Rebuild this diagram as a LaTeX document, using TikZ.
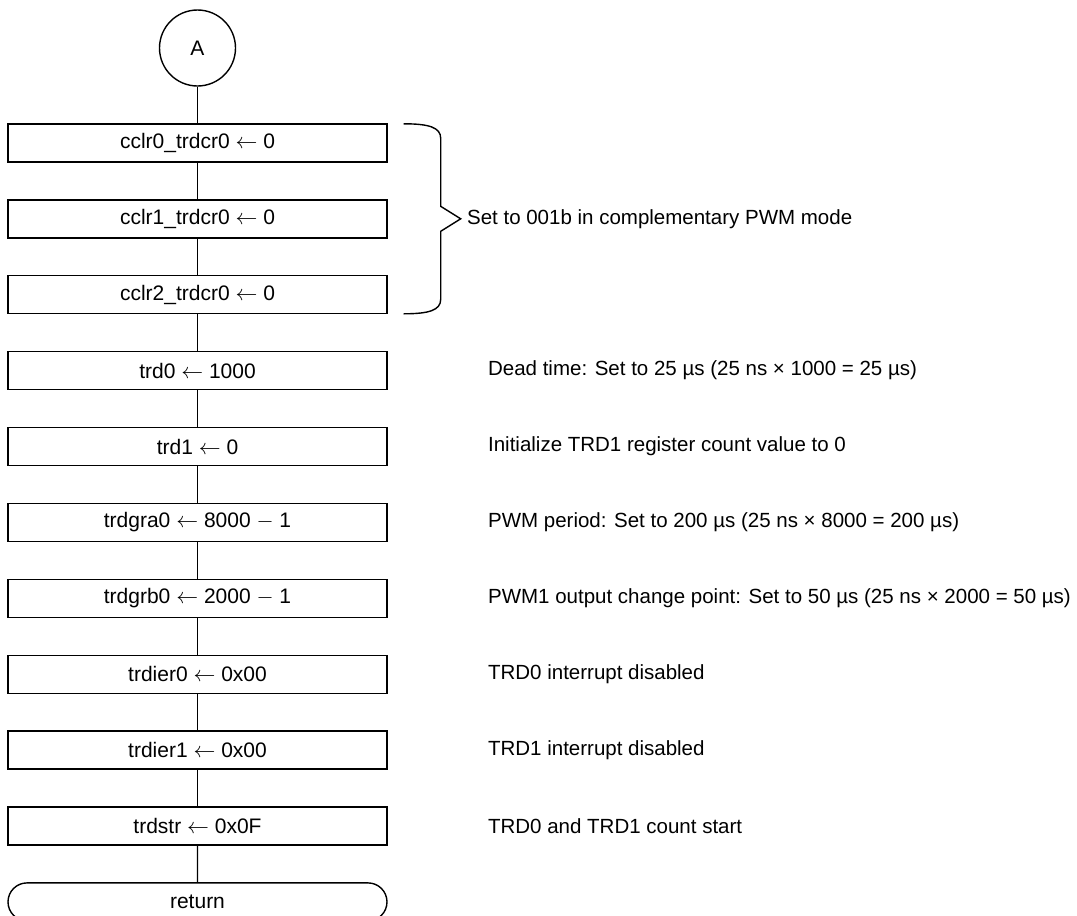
\documentclass[tikz,border=0pt]{standalone}
\usepackage{fontspec}
\setmainfont{Liberation Sans}
\usetikzlibrary{positioning,shapes.misc}

\tikzset{
  proc/.style={draw,black,line width=0.7pt,minimum width=189.5pt,minimum height=19pt,inner sep=0pt},
  conn/.style={draw,black,line width=0.7pt,circle,minimum size=38pt,inner sep=0pt},
  term/.style={draw,black,line width=0.7pt,rounded rectangle,minimum width=189.5pt,minimum height=19pt,inner sep=0pt},
  note/.style={anchor=west,inner sep=0pt,font=\fontsize{10.25}{12.3}\selectfont},
}

\begin{document}
\begin{tikzpicture}[x=0.5pt,y=-0.5pt,font=\fontsize{10.5}{12.6}\selectfont,node distance=18.25pt]
        \useasboundingbox (0,0) rectangle (1077,916);
        % Flow
        \node[conn] (a) at (197.5,48) {A};
        \node[proc,below=of a] (b1) {cclr0\_trdcr0 $\leftarrow$ 0};
        \node[proc,below=of b1] (b2) {cclr1\_trdcr0 $\leftarrow$ 0};
        \node[proc,below=of b2] (b3) {cclr2\_trdcr0 $\leftarrow$ 0};
        \node[proc,below=of b3] (b4) {trd0 $\leftarrow$ 1000};
        \node[proc,below=of b4] (b5) {trd1 $\leftarrow$ 0};
        \node[proc,below=of b5] (b6) {trdgra0 $\leftarrow$ 8000 $-$ 1};
        \node[proc,below=of b6] (b7) {trdgrb0 $\leftarrow$ 2000 $-$ 1};
        \node[proc,below=of b7] (b8) {trdier0 $\leftarrow$ 0x00};
        \node[proc,below=of b8] (b9) {trdier1 $\leftarrow$ 0x00};
        \node[proc,below=of b9] (b10) {trdstr $\leftarrow$ 0x0F};
        \node[term,below=of b10] (ret) {return};
        \draw[line width=0.7pt] (a) -- (b1);
        \foreach \i [evaluate=\i as \j using int(\i+1)] in {1,...,9}
            \draw[line width=0.7pt] (b\i) -- (b\j);
        \draw[line width=0.7pt] (b10) -- (ret);
        % Brace over the three cclr boxes
        \draw[line width=0.7pt,shift={(b2.east)}] (16,-95) .. controls (41,-95) and (53,-91.5) .. (53,-80.5)
            -- (53,-12.5) -- (73,0) -- (53,12.5) -- (53,80.5)
            .. controls (53,91.5) and (41,95) .. (16,95);
        \node[note,right=39.5pt of b2] (n2) {Set to 001b in complementary PWM mode};
        % Comments
        \node[note,right=50pt of b4] (n4) {Dead time: Set to 25 µs (25 ns × 1000 = 25 µs)};
        \node[note,right=50pt of b5] (n5) {Initialize TRD1 register count value to 0};
        \node[note,right=50pt of b6] (n6) {PWM period: Set to 200 µs (25 ns × 8000 = 200 µs)};
        \node[note,right=50pt of b7] (n7) {PWM1 output change point: Set to 50 µs (25 ns × 2000 = 50 µs)};
        \node[note,right=50pt of b8] (n8) {TRD0 interrupt disabled};
        \node[note,right=50pt of b9] (n9) {TRD1 interrupt disabled};
        \node[note,right=50pt of b10] (n10) {TRD0 and TRD1 count start};
\end{tikzpicture}
\end{document}
